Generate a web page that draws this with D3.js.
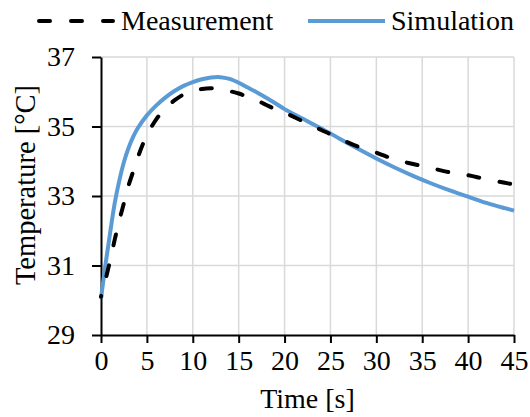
<!DOCTYPE html>
<html>
<head>
    <meta charset="UTF-8">
    <script src="https://d3js.org/d3.v7.min.js"></script>
</head>
<body style="margin: 0;">
<svg id="chart" width="530" height="417"></svg>
<script>
// values
var timeTicks = [0, 5, 10, 15, 20, 25, 30, 35, 40, 45];
var tempTicks = [29, 31, 33, 35, 37];

var measTime = [0, 0.5, 1, 1.5, 2, 2.5, 3, 3.5, 4, 4.5, 5, 6, 7, 8, 9, 10, 11, 12, 13, 14, 15, 16, 17, 18, 19, 20, 22, 24, 25, 26, 28, 30, 32, 34, 36, 38, 40, 42, 44, 45];
var measTemp = [30.1, 30.6, 31.15, 31.75, 32.3, 32.8, 33.3, 33.7, 34.1, 34.45, 34.75, 35.2, 35.52, 35.75, 35.92, 36.02, 36.08, 36.1, 36.08, 36.02, 35.95, 35.85, 35.75, 35.62, 35.5, 35.4, 35.15, 34.9, 34.78, 34.65, 34.42, 34.25, 34.05, 33.92, 33.8, 33.68, 33.6, 33.48, 33.38, 33.33];

var simTime = [0, 0.5, 1, 1.5, 2, 2.5, 3, 3.5, 4, 5, 6, 7, 8, 9, 10, 11, 12, 13, 14, 15, 16, 17, 18, 19, 20, 22, 24, 25, 26, 28, 30, 32, 34, 36, 38, 40, 42, 44, 45];
var simTemp = [30.05, 31.05, 31.95, 32.8, 33.45, 33.98, 34.38, 34.7, 34.95, 35.32, 35.6, 35.83, 36.02, 36.17, 36.28, 36.36, 36.41, 36.42, 36.37, 36.26, 36.12, 35.98, 35.83, 35.67, 35.5, 35.22, 34.94, 34.8, 34.65, 34.36, 34.08, 33.82, 33.58, 33.36, 33.16, 32.98, 32.8, 32.65, 32.58];

var seriesNames = ["Measurement", "Simulation"];

var W = 530, H = 417;
var serif = "'Liberation Serif'";
var margin = {top: 57, right: 16, bottom: 82, left: 101},
    width = W - margin.left - margin.right,
    height = H - margin.top - margin.bottom;

var svg = d3.select("#chart");

var g = svg.append("g")
    .attr("transform", "translate(" + margin.left + "," + margin.top + ")");

var x = d3.scaleLinear().domain([0, 45]).range([0, width]);
var y = d3.scaleLinear().domain([29, 37]).range([height, 0]);

// gridlines
g.append("g").selectAll("line")
    .data(tempTicks.slice(1))
    .enter().append("line")
    .attr("x1", 0).attr("x2", width)
    .attr("y1", d => y(d)).attr("y2", d => y(d))
    .attr("stroke", "#d9d9d9").attr("stroke-width", 1.5);

g.append("g").selectAll("line")
    .data(timeTicks.slice(1))
    .enter().append("line")
    .attr("x1", d => x(d)).attr("x2", d => x(d))
    .attr("y1", 0).attr("y2", height)
    .attr("stroke", "#d9d9d9").attr("stroke-width", 1.5);

// axes
var xAxis = g.append("g")
    .attr("transform", "translate(0," + height + ")")
    .call(d3.axisBottom(x).tickValues(timeTicks).tickSize(8).tickSizeOuter(0).tickPadding(7));
var yAxis = g.append("g")
    .call(d3.axisLeft(y).tickValues(tempTicks).tickSize(9).tickSizeOuter(0).tickPadding(17));

[xAxis, yAxis].forEach(function(a) {
    a.attr("font-family", null).attr("font-size", null);
    a.selectAll("path, line").attr("stroke", "#000").attr("stroke-width", 2);
    a.selectAll("text")
        .style("font-family", serif)
        .attr("font-size", 28)
        .attr("fill", "#000");
});

// lines
var line = d3.line()
    .x(d => x(d[0]))
    .y(d => y(d[1]))
    .curve(d3.curveCatmullRom.alpha(0.5));

var measData = measTime.map((t, i) => [t, measTemp[i]]);
var simData = simTime.map((t, i) => [t, simTemp[i]]);

g.append("path")
    .datum(simData)
    .attr("fill", "none")
    .attr("stroke", "#5b9bd5")
    .attr("stroke-width", 4)
    .attr("d", line);

g.append("path")
    .datum(measData)
    .attr("fill", "none")
    .attr("stroke", "#000")
    .attr("stroke-width", 4)
    .attr("stroke-dasharray", "11,20.5")
    .attr("stroke-dashoffset", 10)
    .attr("stroke-linecap", "round")
    .attr("d", line);

// axis titles
svg.append("text")
    .attr("x", margin.left + width / 2)
    .attr("y", 408)
    .attr("text-anchor", "middle")
    .attr("font-size", 28)
    .style("font-family", serif)
    .text("Time [s]");

svg.append("text")
    .attr("transform", "translate(35," + (margin.top + height / 2 - 11) + ") rotate(-90)")
    .attr("text-anchor", "middle")
    .attr("font-size", 28.5)
    .style("font-family", serif)
    .text("Temperature [°C]");

// legend
var legend = svg.append("g");
legend.append("line")
    .attr("x1", 39).attr("x2", 113).attr("y1", 21).attr("y2", 21)
    .attr("stroke", "#000").attr("stroke-width", 4)
    .attr("stroke-dasharray", "11,21").attr("stroke-linecap", "round");
legend.append("text")
    .attr("x", 121).attr("y", 30)
    .attr("font-size", 28)
    .style("font-family", serif)
    .text(seriesNames[0]);
legend.append("line")
    .attr("x1", 308).attr("x2", 385).attr("y1", 21).attr("y2", 21)
    .attr("stroke", "#5b9bd5").attr("stroke-width", 4);
legend.append("text")
    .attr("x", 391).attr("y", 30)
    .attr("font-size", 28)
    .style("font-family", serif)
    .text(seriesNames[1]);
</script>
</body>
</html>
